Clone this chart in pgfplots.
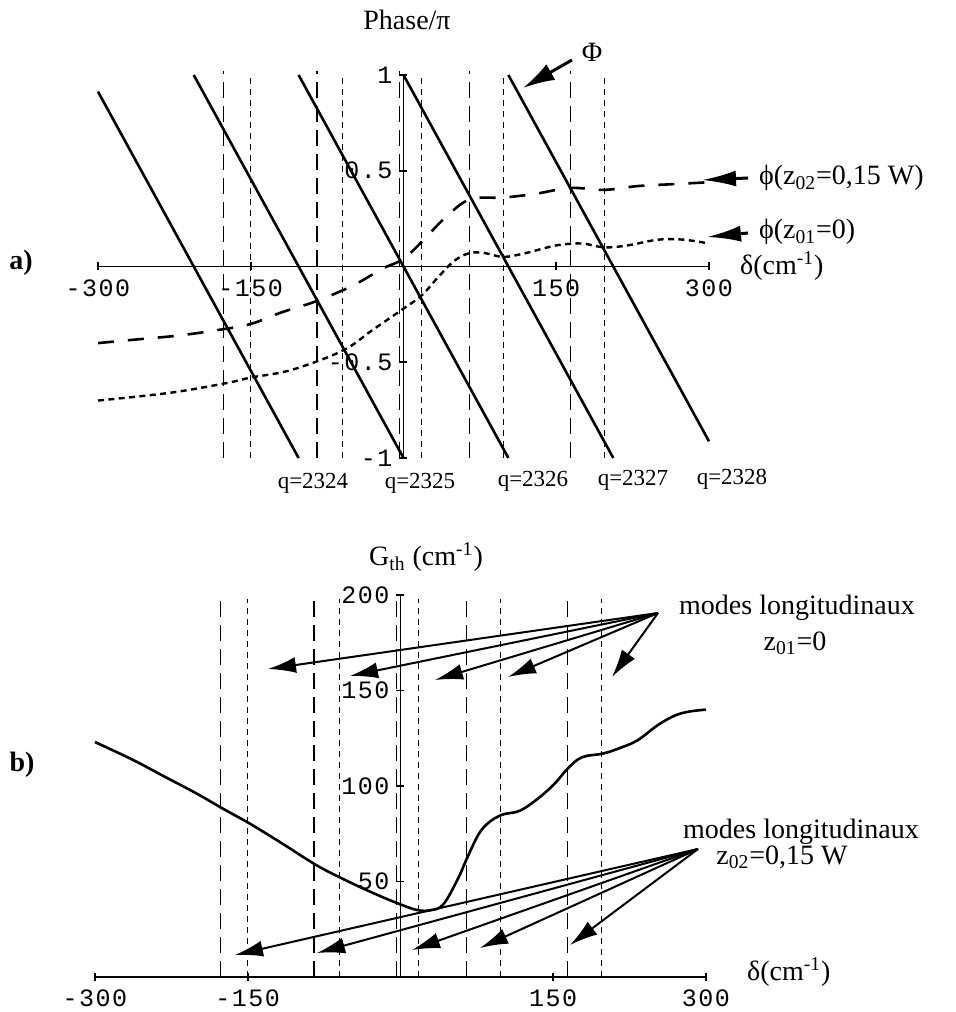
\documentclass[border=0pt]{standalone}
\usepackage{fontspec}
\setmainfont{Liberation Serif}
\newfontfamily\tickfont[LetterSpace=6]{Liberation Mono}
\usepackage{pgfplots}
\pgfplotsset{compat=1.18}
\usetikzlibrary{arrows.meta}

\pgfplotsset{
  panel/.style={
    scale only axis, width=305.5pt,
    axis lines=middle,
    axis line style={-, line width=0.9pt, black},
    every inner x axis line/.append style={-},
    every inner y axis line/.append style={-},
    xmin=-300, xmax=300, clip=false,
    tick align=center, major tick length=4pt,
    tick style={line width=0.8pt, black},
    tick label style={font=\tickfont\fontsize{12.5}{12.5}\selectfont},
    xtick={-300,-150,150,300}, xticklabels={-300,-150,150,300},
    x tick label style={yshift=-1pt},
  },
  longv/.style={line width=0.6pt, dash pattern=on 8pt off 4pt},
  shortv/.style={line width=0.6pt, dash pattern=on 3pt off 2.5pt},
}

\begin{document}
\begin{tikzpicture}
\path[use as bounding box] (0,0) rectangle (477.5pt,506pt);

% ---------------- panel a ----------------
\begin{axis}[panel, height=191.5pt, at={(49pt,277pt)}, anchor=south west,
  ymin=-1, ymax=1,
  ytick={-1,-0.5,0.5,1}, yticklabels={-1,-0.5,0.5,1}]
% round-trip phase lines Phi
\addplot[line width=1.3pt] coordinates {(-300,0.913) (-103,-1)};
\addplot[line width=1.3pt] coordinates {(-206,1) (0,-1)};
\addplot[line width=1.3pt] coordinates {(-103,1) (103,-1)};
\addplot[line width=1.3pt] coordinates {(0,1) (206,-1)};
\addplot[line width=1.3pt] coordinates {(103,1) (300,-0.913)};
% modes z02 (long dashed)
\addplot[longv] coordinates {(-177,-1) (-177,1.02)};
\addplot[longv] coordinates {(-85,-1) (-85,1.02)};
\addplot[longv] coordinates {(-4,-1) (-4,1.02)};
\addplot[longv] coordinates {(65,-1) (65,1.02)};
\addplot[longv] coordinates {(164,-1) (164,1.02)};
% modes z01 (short dashed)
\addplot[shortv] coordinates {(-150,-1) (-150,1)};
\addplot[shortv] coordinates {(-60,-1) (-60,1)};
\addplot[shortv] coordinates {(18,-1) (18,1)};
\addplot[shortv] coordinates {(98,-1) (98,1)};
\addplot[shortv] coordinates {(197,-1) (197,1)};
% phi(z02 = 0.15 W)
\addplot[line width=1.3pt, smooth, tension=0.6, dash pattern=on 8pt off 7pt] coordinates {
(-300,-0.40) (-260,-0.38) (-220,-0.36) (-180,-0.33) (-150,-0.30) (-120,-0.24)
(-85,-0.18) (-50,-0.10) (-20,-0.01) (0,0.04) (20,0.14) (40,0.25) (65,0.35)
(98,0.36) (130,0.38) (164,0.41) (197,0.40) (230,0.42) (265,0.43) (300,0.44)};
% phi(z01 = 0)
\addplot[line width=1.2pt, smooth, tension=0.6, dash pattern=on 3pt off 2.2pt] coordinates {
(-300,-0.70) (-230,-0.66) (-175,-0.61) (-150,-0.58) (-110,-0.54) (-60,-0.44)
(-30,-0.33) (0,-0.22) (18,-0.15) (35,-0.05) (50,0.03) (65,0.07) (80,0.07)
(98,0.05) (120,0.07) (150,0.11) (175,0.12) (197,0.10) (220,0.11) (250,0.14)
(275,0.14) (300,0.12)};
\end{axis}

% ---------------- panel b ----------------
\begin{axis}[panel, height=191pt, at={(47.5pt,17.5pt)}, anchor=south west,
  ymin=0, ymax=200,
  ytick={50,100,150,200}, yticklabels={50,100,150,200}]
\addplot[longv] coordinates {(-177,0) (-177,201)};
\addplot[longv] coordinates {(-85,0) (-85,201)};
\addplot[longv] coordinates {(-4,0) (-4,201)};
\addplot[longv] coordinates {(65,0) (65,201)};
\addplot[longv] coordinates {(164,0) (164,201)};
\addplot[shortv] coordinates {(-150,0) (-150,198)};
\addplot[shortv] coordinates {(-60,0) (-60,198)};
\addplot[shortv] coordinates {(18,0) (18,198)};
\addplot[shortv] coordinates {(98,0) (98,198)};
\addplot[shortv] coordinates {(197,0) (197,198)};
% threshold gain
\addplot[line width=1.3pt, smooth, tension=0.6] coordinates {
(-300,123) (-264,114) (-232,105) (-200,96) (-174,88) (-147,80) (-115,69.5)
(-84,59) (-59,52) (-27,44) (0,38) (17,35) (30,35) (42,38) (56,51) (66,63)
(77,75) (87,81) (100,85) (117,87) (134,93) (151,101) (164,109) (178,115)
(199,117) (216,120) (233,124) (253,132) (270,137) (284,139) (300,140)};
\end{axis}

% ---------------- annotations (pixel coordinates of the reference) ----------------
\begin{scope}[x=0.5pt, y=-0.5pt, shift={(0pt,506pt)}]
\def\lab{\fontsize{14}{14}\selectfont}
\node[font=\lab] at (407,20) {Phase/π};
\node[font=\lab\bfseries] at (21,263) {a)};
\node[font=\lab] at (592,52) {Φ};
\draw[line width=1.5pt, -{Latex[length=16pt,width=9pt]}] (572,60) -- (523,88);
\node[font=\lab, anchor=west] at (752,178) {ϕ(z\textsubscript{02}=0,15 W)};
\draw[line width=1.5pt, -{Latex[length=17pt,width=8pt]}] (748,178) -- (702,180);
\node[font=\lab, anchor=west] at (752,232) {ϕ(z\textsubscript{01}=0)};
\draw[line width=1.5pt, -{Latex[length=17pt,width=8pt]}] (748,233) -- (707,237);
\node[font=\lab, anchor=west] at (733,266) {δ(cm\textsuperscript{-1})};
\begin{scope}[every node/.style={font=\fontsize{11.5}{11.5}\selectfont}]
\node at (313,483) {q=2324};
\node at (420,483) {q=2325};
\node at (533,481) {q=2326};
\node at (633,480) {q=2327};
\node at (732,479) {q=2328};
\end{scope}

\node[font=\lab] at (426,557) {G\textsubscript{th} (cm\textsuperscript{-1})};
\node[font=\lab\bfseries] at (22,765) {b)};
\node[font=\lab] at (797,608) {modes longitudinaux};
\node[font=\lab] at (795,643) {z\textsubscript{01}=0};
\node[font=\lab] at (801,832) {modes longitudinaux};
\node[font=\lab] at (782,857) {z\textsubscript{02}=0,15 W};
\node[font=\lab, anchor=west] at (740,972) {δ(cm\textsuperscript{-1})};

\begin{scope}[line width=1pt, -{Latex[length=14pt,width=8pt]}]
\draw (658,613) -- (268,669);
\draw (658,613) -- (350,676);
\draw (658,613) -- (435,680);
\draw (658,613) -- (508,677);
\draw (658,613) -- (612,677);
\draw (698,849) -- (235,955);
\draw (698,849) -- (317,953);
\draw (698,849) -- (412,950);
\draw (698,849) -- (480,948);
\draw (698,849) -- (570,945);
\end{scope}
\end{scope}
\end{tikzpicture}
\end{document}
